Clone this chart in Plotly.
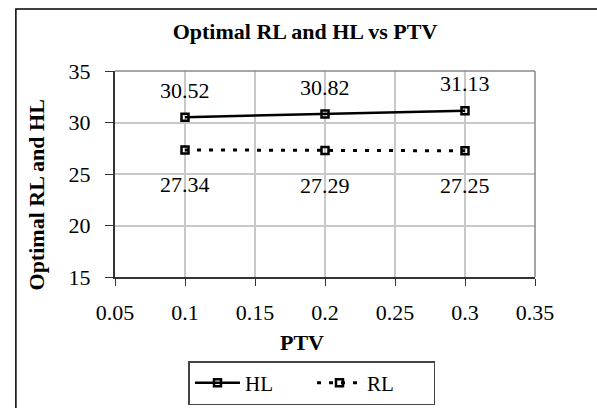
import plotly.graph_objects as go

# Data
ptv = [0.1, 0.2, 0.3]
hl_values = [30.52, 30.82, 31.13]
rl_values = [27.34, 27.29, 27.25]

FONT = "Liberation Serif"
LABEL_SIZE = 22

fig = go.Figure()

# HL series: solid line with open square markers
fig.add_trace(go.Scatter(
    x=ptv,
    y=hl_values,
    name="HL",
    mode="lines+markers",
    line=dict(color="black", width=2.5),
    marker=dict(symbol="square-open", size=7, color="black", line=dict(width=2.5)),
))

# RL series: dotted line with open square markers
fig.add_trace(go.Scatter(
    x=ptv,
    y=rl_values,
    name="RL",
    mode="lines+markers",
    line=dict(color="black", width=3, dash="4px,8px"),
    marker=dict(symbol="square-open", size=7, color="black", line=dict(width=2.5)),
))

# data labels: HL above the points, RL below
for x, y in zip(ptv, hl_values):
    fig.add_annotation(x=x, y=y, text=f"{y:.2f}", showarrow=False, yshift=27,
                       font=dict(family=FONT, size=LABEL_SIZE, color="black"))
for x, y in zip(ptv, rl_values):
    fig.add_annotation(x=x, y=y, text=f"{y:.2f}", showarrow=False, yshift=-35,
                       font=dict(family=FONT, size=LABEL_SIZE, color="black"))

# axis titles placed like the Excel original (slightly off-centre)
fig.add_annotation(xref="paper", yref="paper", x=0.445, y=-0.316,
                   xanchor="center", yanchor="middle",
                   text="<b>PTV</b>", showarrow=False,
                   font=dict(family=FONT, size=LABEL_SIZE, color="black"))
fig.add_annotation(xref="paper", yref="paper", x=-0.186, y=0.40,
                   xanchor="center", yanchor="middle",
                   text="<b>Optimal RL and HL</b>", showarrow=False, textangle=-90,
                   font=dict(family=FONT, size=LABEL_SIZE, color="black"))

# outer chart border (right and bottom edges fall outside the picture)
fig.add_shape(
    type="rect", xref="paper", yref="paper",
    x0=-0.236, x1=1.2, y0=-0.7, y1=1.301,
    line=dict(color="black", width=1.5),
)

# gray right/top frame lines of the plot area
fig.add_shape(type="line", xref="paper", yref="paper", x0=1, x1=1, y0=0, y1=1,
              line=dict(color="#888888", width=1.5))
fig.add_shape(type="line", xref="paper", yref="paper", x0=0, x1=1, y0=1, y1=1,
              line=dict(color="#888888", width=1.5))

fig.update_layout(
    width=597,
    height=408,
    paper_bgcolor="white",
    plot_bgcolor="white",
    margin=dict(l=115, r=62, t=71, b=131, autoexpand=False),
    font=dict(family=FONT, size=LABEL_SIZE, color="black"),
    title=dict(
        text="<b>Optimal RL and HL vs PTV</b>",
        x=305 / 597, xanchor="center",
        y=1 - 31 / 408, yanchor="middle",
        font=dict(family=FONT, size=LABEL_SIZE, color="black"),
    ),
    xaxis=dict(
        range=[0.05, 0.35],
        dtick=0.05,
        tickformat="~g",
        showgrid=True,
        gridcolor="#c8c8c8",
        gridwidth=1.5,
        showline=True,
        linecolor="#333333",
        linewidth=2,
        ticks="outside",
        ticklen=7,
        tickcolor="#333333",
        zeroline=False,
        ticklabelstandoff=8,
        tickfont=dict(family=FONT, size=LABEL_SIZE),
    ),
    yaxis=dict(
        range=[15, 35],
        dtick=5,
        showgrid=True,
        gridcolor="#c8c8c8",
        gridwidth=1.5,
        showline=True,
        linecolor="#333333",
        linewidth=2,
        ticks="outside",
        ticklen=8,
        tickcolor="#333333",
        zeroline=False,
        ticklabelstandoff=10,
        tickfont=dict(family=FONT, size=LABEL_SIZE),
    ),
    showlegend=True,
    legend=dict(
        orientation="h",
        x=0.469, xanchor="center",
        y=-0.515, yanchor="middle",
        bordercolor="#444444",
        borderwidth=1.5,
        bgcolor="white",
        font=dict(family=FONT, size=21),
        itemwidth=45,
        entrywidth=62,
    ),
)

fig.write_html("out.html", config={"displayModeBar": False},
               post_script="document.body.style.margin='0';")
